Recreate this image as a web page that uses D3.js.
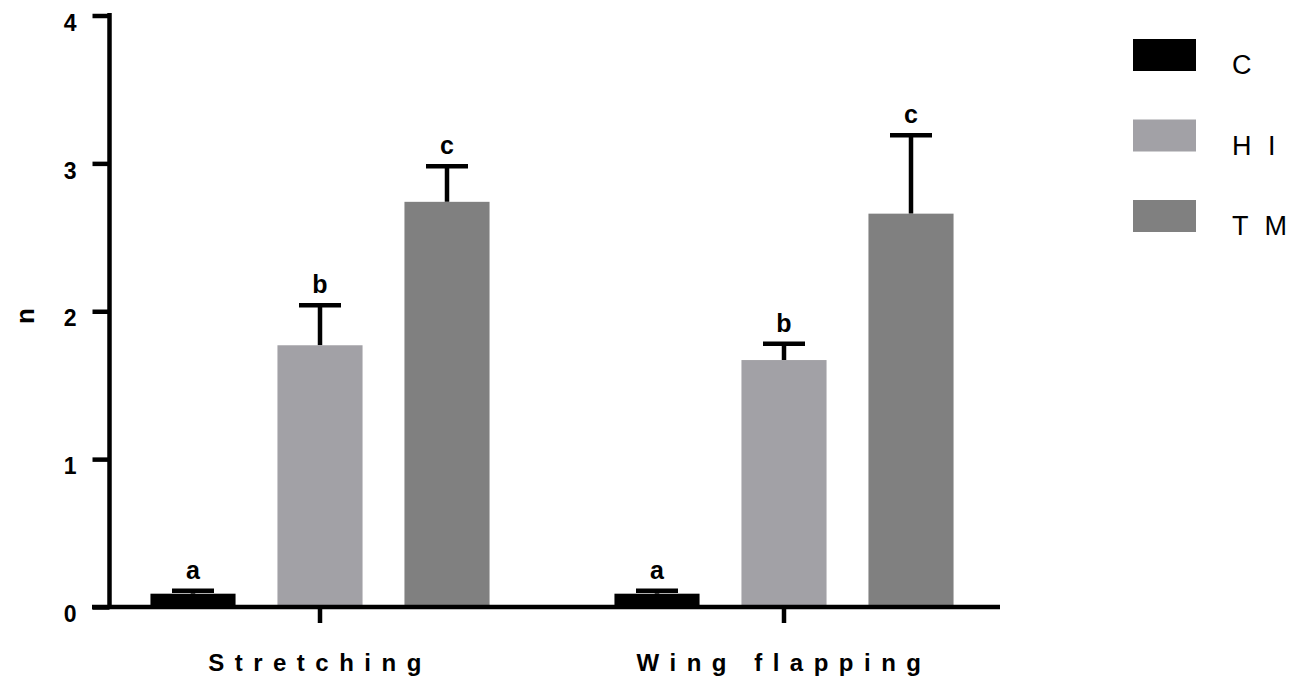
<!DOCTYPE html>
<html lang="en">
<head>
<meta charset="utf-8">
<title>Stretching and wing flapping</title>
<script src="https://d3js.org/d3.v7.min.js"></script>
<style>
  body { margin: 0; background: #fff; }
  svg text { font-family: "Liberation Sans", Arial, sans-serif; }
  .tick-lbl { font-size: 23px; font-weight: bold; }
  .ylab { font-size: 26px; font-weight: bold; }
  .grp-lbl { font-size: 24px; font-weight: bold; letter-spacing: 10.5px; }
  .sig { font-size: 25px; font-weight: bold; }
  .leg { font-size: 27px; letter-spacing: 4.5px; }
</style>
</head>
<body>
<div id="vis"></div>
<script>
const groups = ["Stretching", "Wing flapping"];
const series = ["C", "H I", "T M"];
const colors = ["#000000", "#a2a1a6", "#808080"];
// mean and error (upper) per group, per series
const means = [[0.09, 1.77, 2.74], [0.09, 1.67, 2.66]];
const errs = [[0.02, 0.27, 0.24], [0.02, 0.11, 0.53]];
const letters = [["a", "b", "c"], ["a", "b", "c"]];
const yTicks = [0, 1, 2, 3, 4];

const width = 1294, height = 684;

const svg = d3.select("#vis").append("svg")
  .attr("width", width).attr("height", height);

const y = d3.scaleLinear().domain([0, 4]).range([607, 15.5]);
const x0 = d3.scaleBand().domain(groups).range([88, 1016]);
const x1 = d3.scaleBand().domain(series).range([-190.5, 190.5])
  .paddingInner(0.33).paddingOuter(0.165);

const rows = [];
groups.forEach((g, gi) => series.forEach((s, si) => rows.push({
  g, s, si, v: means[gi][si], e: errs[gi][si], l: letters[gi][si]
})));

const cx = d => x0(d.g) + x0.bandwidth() / 2;

// error bars (drawn under the bars)
const eb = svg.append("g").attr("stroke", "#000").attr("stroke-width", 4.5);
eb.selectAll(".ev").data(rows).join("line")
  .attr("x1", d => cx(d) + x1(d.s) + x1.bandwidth() / 2)
  .attr("x2", d => cx(d) + x1(d.s) + x1.bandwidth() / 2)
  .attr("y1", d => y(d.v)).attr("y2", d => y(d.v + d.e));
eb.selectAll(".ec").data(rows).join("line")
  .attr("x1", d => cx(d) + x1(d.s) + x1.bandwidth() / 2 - 21)
  .attr("x2", d => cx(d) + x1(d.s) + x1.bandwidth() / 2 + 21)
  .attr("y1", d => y(d.v + d.e)).attr("y2", d => y(d.v + d.e));

svg.append("g").selectAll("rect").data(rows).join("rect")
  .attr("x", d => cx(d) + x1(d.s))
  .attr("width", x1.bandwidth())
  .attr("y", d => y(d.v))
  .attr("height", d => y(0) - y(d.v))
  .attr("fill", d => colors[d.si]);

svg.append("g").selectAll("text").data(rows).join("text")
  .attr("class", "sig")
  .attr("text-anchor", "middle")
  .attr("x", d => cx(d) + x1(d.s) + x1.bandwidth() / 2)
  .attr("y", d => y(d.v + d.e) - 12)
  .text(d => d.l);

// y axis
const yAxis = svg.append("g").attr("transform", "translate(109.5,0)")
  .call(d3.axisLeft(y).tickValues(yTicks).tickFormat(d3.format("d"))
    .tickSize(17).tickSizeOuter(0).tickPadding(16));
yAxis.select(".domain").attr("stroke-width", 4.5).attr("d", "M0,13V609");
yAxis.selectAll(".tick line").attr("stroke-width", 4.5);
yAxis.selectAll(".tick text").attr("class", "tick-lbl").attr("fill", "#000")
  .attr("dy", "0.64em");

// x axis
svg.append("line").attr("x1", 92).attr("x2", 1000)
  .attr("y1", y(0)).attr("y2", y(0))
  .attr("stroke", "#000").attr("stroke-width", 4.5);
const xAxis = svg.append("g").attr("transform", `translate(0,${y(0)})`)
  .call(d3.axisBottom(x0).tickSize(16).tickSizeOuter(0).tickPadding(31));
xAxis.select(".domain").remove();
xAxis.selectAll(".tick line").attr("stroke-width", 4.5);
xAxis.selectAll(".tick text").attr("class", "grp-lbl").attr("fill", "#000");

// y label
svg.append("text")
  .attr("transform", "translate(34,316) rotate(-90)")
  .attr("text-anchor", "middle")
  .attr("class", "ylab")
  .text("n");

// legend
const leg = svg.append("g").selectAll("g").data(series).join("g")
  .attr("transform", (d, i) => `translate(1133,${39 + i * 80.5})`);
leg.append("rect").attr("width", 63).attr("height", 32)
  .attr("fill", (d, i) => colors[i]);
leg.append("text").attr("class", "leg").attr("x", 99).attr("y", 35)
  .text(d => d);
</script>
</body>
</html>
